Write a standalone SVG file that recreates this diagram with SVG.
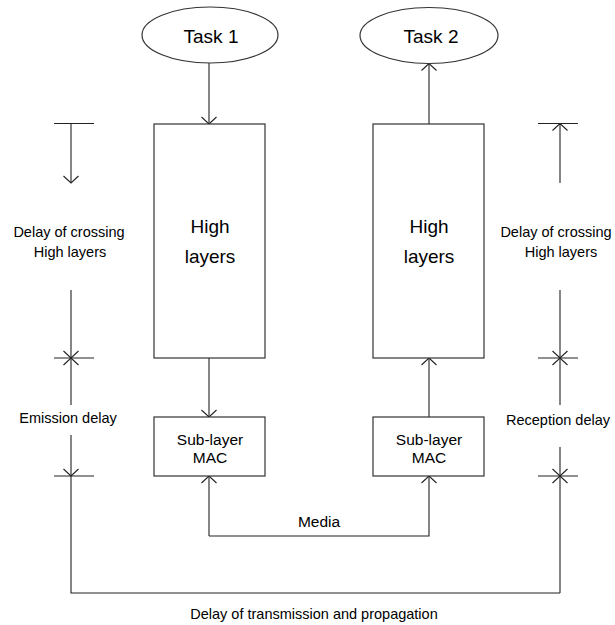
<svg xmlns="http://www.w3.org/2000/svg" width="615" height="625" viewBox="0 0 615 625">
<style>
  text { font-family: "Liberation Sans", Arial, sans-serif; fill: #000; text-anchor: middle; }
  .shape { fill: #fff; stroke: #333; stroke-width: 1.2; }
  .ln { fill: none; stroke: #222; stroke-width: 1.1; }
  .arr { marker-end: url(#open); }
  .big { font-size: 19px; }
  .mid { font-size: 15.5px; }
  .sm { font-size: 14.5px; }
</style>
<defs>
  <marker id="open" viewBox="-10 -10 20 20" markerWidth="20" markerHeight="20" refX="0" refY="0" markerUnits="userSpaceOnUse" orient="auto" overflow="visible">
    <path d="M-7,-7.5 L0,0 L-7,7.5" fill="none" stroke="#222" stroke-width="1.1"/>
  </marker>
</defs>
<rect width="615" height="625" fill="#fff"/>

<g id="connectors">
  <path class="ln arr" d="M209,63 V124"/>
  <path class="ln arr" d="M429,124 V63.5"/>
  <path class="ln arr" d="M209,358 V417"/>
  <path class="ln arr" d="M429,417 V358"/>
  <path class="ln arr" d="M209,536 V476"/>
  <path class="ln arr" d="M209,536 H429 V476"/>
</g>

<g id="task1">
  <ellipse class="shape" cx="210" cy="35" rx="68" ry="28"/>
  <text class="big" x="211" y="43">Task 1</text>
</g>
<g id="task2">
  <ellipse class="shape" cx="429" cy="35.5" rx="69" ry="28"/>
  <text class="big" x="431" y="43">Task 2</text>
</g>
<g id="high1">
  <rect class="shape" x="154" y="124" width="111" height="234"/>
  <text class="big" x="210" y="233">High</text>
  <text class="big" x="210" y="263">layers</text>
</g>
<g id="high2">
  <rect class="shape" x="373" y="124" width="111" height="234"/>
  <text class="big" x="429" y="233">High</text>
  <text class="big" x="429" y="263">layers</text>
</g>
<g id="mac1">
  <rect class="shape" x="154" y="417" width="111" height="59"/>
  <text class="mid" x="210" y="445">Sub-layer</text>
  <text class="mid" x="210" y="463">MAC</text>
</g>
<g id="mac2">
  <rect class="shape" x="373" y="417" width="111" height="59"/>
  <text class="mid" x="429" y="445">Sub-layer</text>
  <text class="mid" x="429" y="463">MAC</text>
</g>
<g id="media-label">
  <text class="mid" x="319" y="527">Media</text>
</g>

<g id="left-timeline">
  <path class="ln" d="M54,123.5 H94 M54,358 H94 M54,476 H94"/>
  <path class="ln arr" d="M71,123.5 V183"/>
  <path class="ln arr" d="M71,290 V358"/>
  <path class="ln arr" d="M71,405 V358"/>
  <path class="ln arr" d="M71,435 V476"/>
  <text class="sm" x="69" y="237">Delay of crossing</text>
  <text class="sm" x="70" y="257">High layers</text>
  <text class="sm" x="68" y="423">Emission delay</text>
</g>

<g id="right-timeline">
  <path class="ln" d="M538,123.5 H578 M538,358 H578 M538,476 H578"/>
  <path class="ln arr" d="M560,183 V123.5"/>
  <path class="ln arr" d="M560,290 V358"/>
  <path class="ln arr" d="M560,405 V358"/>
  <path class="ln arr" d="M560,447 V476"/>
  <text class="sm" x="556" y="237">Delay of crossing</text>
  <text class="sm" x="561" y="257">High layers</text>
  <text class="sm" x="558" y="425">Reception delay</text>
</g>

<g id="transmission">
  <path class="ln" d="M71,476 V593 H560"/>
  <path class="ln arr" d="M560,593 V476"/>
  <text class="sm" x="314" y="619">Delay of transmission and propagation</text>
</g>
</svg>
